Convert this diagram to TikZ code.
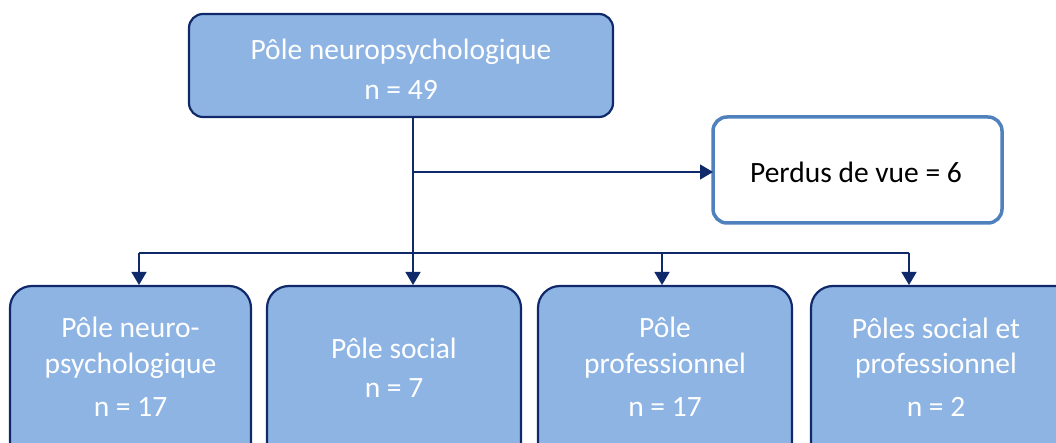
\documentclass[tikz,border=0pt]{standalone}
\usepackage{fontspec}
\setmainfont{Carlito}
\usetikzlibrary{arrows.meta}
\definecolor{boxfill}{HTML}{8EB4E3}
\definecolor{navy}{HTML}{10296A}
\definecolor{steel}{HTML}{4F81BD}
\begin{document}
\begin{tikzpicture}[x=1pt,y=-1pt,
  bluebox/.style={draw=navy,line width=2.2pt,fill=boxfill,rounded corners=14pt},
  lowbox/.style={bluebox,rounded corners=22pt},
  whitebox/.style={draw=steel,line width=3.5pt,fill=white,rounded corners=14pt},
  wtxt/.style={text=white,font=\fontsize{29.5}{30}\selectfont,inner sep=0pt},
  btxt/.style={text=black,font=\fontsize{29.5}{30}\selectfont,inner sep=0pt},
  conn/.style={draw=navy,line width=1.3pt},
  arr/.style={conn,-{Triangle[length=13pt,width=15pt]}}]
\useasboundingbox (0,0) rectangle (1056,443);
\clip (0,0) rectangle (1056,443);
% boxes
\draw[bluebox] (189,14) rectangle (613,117);
\node[wtxt] (t1) at (401,52) {Pôle neuropsychologique};
\node[wtxt] (t2) at (401,90) {n = 49};
\coordinate (topb) at (413,117);
\draw[whitebox] (713,117) rectangle (1002,223);
\node[btxt] (lost) at (856,172) {Perdus de vue = 6};
\coordinate (lostw) at (713,172);
\draw[lowbox] (10,286) rectangle (251,470);
\draw[lowbox] (267,286) rectangle (521,470);
\draw[lowbox] (538,286) rectangle (792,470);
\draw[lowbox] (811,286) rectangle (1080,470);
\node[wtxt] (a1) at (130.5,327) {Pôle neuro-};
\node[wtxt] (a2) at (130.5,366) {psychologique};
\node[wtxt] (a3) at (130.5,407) {n = 17};
\node[wtxt] (b1) at (394,348) {Pôle social};
\node[wtxt] (b2) at (394,388) {n = 7};
\node[wtxt] (c1) at (665,327) {Pôle};
\node[wtxt] (c2) at (665,366) {professionnel};
\node[wtxt] (c3) at (665,407) {n = 17};
\node[wtxt] (d1) at (936,328) {Pôles social et};
\node[wtxt] (d2) at (936,366) {professionnel};
\node[wtxt] (d3) at (936,407) {n = 2};
% connectors
\coordinate (mid) at (413,172);
\coordinate (hb) at (413,253);
\coordinate (hl) at (139,253);
\coordinate (hr) at (909,253);
\coordinate (hm) at (662,253);
\coordinate (e1) at (139,285);
\coordinate (e2) at (413,285);
\coordinate (e3) at (662,285);
\coordinate (e4) at (909,285);
\draw[conn] (topb) -- (hb);
\draw[arr] (mid) -- (lostw);
\draw[conn] (hl) -- (hr);
\draw[arr] (hl) -- (e1);
\draw[arr] (hb) -- (e2);
\draw[arr] (hm) -- (e3);
\draw[arr] (hr) -- (e4);
\end{tikzpicture}
\end{document}
